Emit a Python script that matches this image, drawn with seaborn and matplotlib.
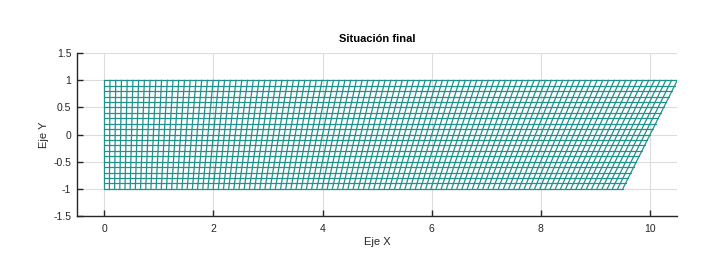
import numpy as np
import pandas as pd
import matplotlib
matplotlib.use("Agg")
import matplotlib.pyplot as plt
import seaborn as sns

# Mesh definition (undeformed reference domain)
x_nodes = np.round(np.arange(0, 101) * 0.1, 2)   # 0 .. 10, 100 divisions
y_nodes = np.round(np.arange(0, 21) * 0.1 - 1, 2)  # -1 .. 1, 20 divisions
stretch = 0.05  # final state: x' = x * (1 + stretch * y)

x_ticks = [0, 2, 4, 6, 8, 10]
x_ticklabels = ["0", "2", "4", "6", "8", "10"]
y_ticks = [-1.5, -1, -0.5, 0, 0.5, 1, 1.5]
y_ticklabels = ["-1.5", "-1", "-0.5", "0", "0.5", "1", "1.5"]

title = "Situación final"
xlabel = "Eje X"
ylabel = "Eje Y"

# Build long table of mesh lines
rows = []
lid = 0
for yv in y_nodes:  # horizontal lines
    for xv in x_nodes:
        rows.append((lid, xv * (1 + stretch * yv), yv))
    lid += 1
for xv in x_nodes:  # vertical lines
    for yv in y_nodes:
        rows.append((lid, xv * (1 + stretch * yv), yv))
    lid += 1
df = pd.DataFrame(rows, columns=["line", "x", "y"])

sns.set_theme(style="whitegrid")
plt.rcParams["font.family"] = ["Liberation Sans", "DejaVu Sans"]

fig = plt.figure(figsize=(7.26, 2.64), dpi=100)
ax = fig.add_axes([0.106, 0.182, 0.827, 0.617])

sns.lineplot(data=df, x="x", y="y", units="line", estimator=None, sort=False,
             color="#21918c", linewidth=0.9, ax=ax, legend=False)

ax.set_xlim(-0.5, 10.5)
ax.set_ylim(-1.5, 1.5)
ax.set_xticks(x_ticks)
ax.set_xticklabels(x_ticklabels)
ax.set_yticks(y_ticks)
ax.set_yticklabels(y_ticklabels)
ax.grid(True, color="#dcdcdc", linewidth=0.8)
ax.set_axisbelow(True)
for s in ["top", "right"]:
    ax.spines[s].set_visible(False)
for s in ["left", "bottom"]:
    ax.spines[s].set_visible(True)
    ax.spines[s].set_color("#262626")
    ax.spines[s].set_linewidth(1.0)
ax.tick_params(direction="in", length=4, width=1, color="#262626",
               labelsize=7.5, labelcolor="#262626", left=True, bottom=True)
ax.tick_params(axis="y", pad=4)
ax.tick_params(axis="x", pad=6)
ax.set_xlabel(xlabel, fontsize=8, color="#262626", labelpad=2)
ax.set_ylabel(ylabel, fontsize=8, color="#262626", labelpad=3)
ax.set_title(title, fontsize=8, fontweight="bold", color="#000000", pad=8)

fig.savefig("out.png", dpi=100)
